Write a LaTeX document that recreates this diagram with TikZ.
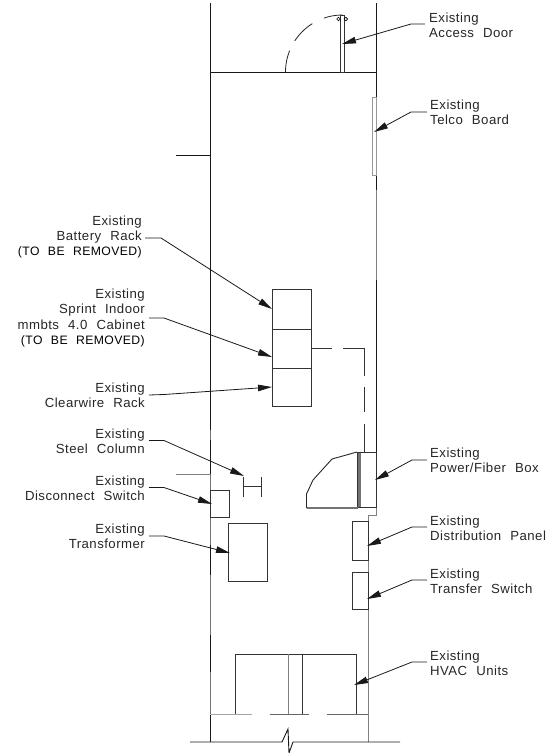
\documentclass[tikz,border=0pt]{standalone}
\usepackage{fontspec}
\usetikzlibrary{arrows.meta}
\setmainfont{Liberation Sans}[LetterSpace=3.5,WordSpace=2.2]
\newcommand{\capsline}[1]{{\fontsize{12.2}{15.2}\selectfont\color{black}#1}}
\tikzset{
  wall/.style={line width=0.9pt,black!90},
  thin gray/.style={line width=0.9pt,black!50},
  part/.style={draw=black!80,line width=0.9pt},
  leader/.style={line width=0.8pt,black!90,-{Stealth[length=14pt,width=6.5pt,inset=0pt]}},
  lblr/.style={anchor=west,inner sep=0pt,align=left,font=\fontsize{13.2}{15.2}\selectfont,text=black!85},
  lbll/.style={anchor=east,inner sep=0pt,align=right,font=\fontsize{13.2}{15.2}\selectfont,text=black!85}
}
\begin{document}
\begin{tikzpicture}[x=1pt,y=-1pt]
\useasboundingbox (0,0) rectangle (556,753);
% walls
\draw[wall] (210,3) -- (210,742);
\draw[wall] (376,3) -- (376,452);
\draw[thin gray] (376,507) -- (376,515) -- (368,515) -- (368,742);
\draw[thin gray] (376,190) -- (376,280);
\foreach \a/\b in {430/440,474/545,575/635,672/714}{\draw[line width=1pt,black!55] (210,\a) -- (210,\b);}
\draw[wall] (210,72) -- (376,72);
\draw[wall] (176,155) -- (210,155);
\draw[thin gray] (176,474) -- (210,474);
% bottom break line
\draw[wall] (190,742) -- (282,742) -- (288,729) -- (289,753) -- (293,742) -- (400,742);
% door
\draw[part] (340,15) rectangle (344,72);
\draw[line width=0.6pt] (338.5,19) circle (1.8);
\draw[line width=0.6pt] (345.8,19) circle (1.8);
\begin{scope}[shift={(342.5,72)},line width=0.8pt,black!85]
\draw plot[domain=180:202,samples=8,smooth] ({57*cos(\x)},{57*sin(\x)});
\draw plot[domain=213:238,samples=8,smooth] ({57*cos(\x)},{57*sin(\x)});
\draw plot[domain=251:270,samples=8,smooth] ({57*cos(\x)},{57*sin(\x)});
\end{scope}
% telco board
\draw[line width=0.9pt,black!40] (372.5,97) rectangle (376,175);
% racks
\draw[part] (272,289.5) rectangle (311,329);
\draw[part] (272,329) rectangle (311,368);
\draw[part] (272,368) rectangle (311,406);
% dashed run
\draw[part] (311,348) -- (332,348);
\draw[part] (343,348) -- (364,348) -- (364,376);
\draw[part] (364,387) -- (364,412);
\draw[part] (364,424) -- (364,452);
% power/fiber box
\fill[black!55] (357,452) rectangle (361,507);
\draw[part] (357,452) rectangle (376,507);
\draw[line width=0.9pt,black!85] (357,452) -- (332,459) -- (313,480) -- (306.5,494) -- (306.5,508);
\draw[line width=1.8pt,black!55] (306.5,508) -- (358,508);
% steel column
\draw[part] (243.5,477) -- (243.5,497);
\draw[part] (243.5,486.5) -- (261.5,486.5);
\draw[part] (261.5,477) -- (261.5,497);
% disconnect, transformer, panels
\draw[part] (210.5,490.5) rectangle (229,517);
\draw[part] (228.7,523) rectangle (267.7,581);
\draw[part] (352,521) rectangle (368,560);
\draw[part] (352,572) rectangle (368,609);
% HVAC
\draw[part] (235,714) -- (235,654) -- (356,654) -- (356,714);
\draw[line width=0.9pt,black!50] (288,654) -- (288,714);
\draw[part] (302,654) -- (302,714);
\draw[line width=0.9pt,black!35] (210,714) -- (252,714);
\draw[line width=0.9pt,black!60] (269.5,714) -- (309,714);
\draw[line width=0.9pt,black!60] (327,714) -- (368,714);
% labels
\node[lblr] (door) at (429,25) {Existing\\Access Door};
\node[lblr] (telco) at (430,112.5) {Existing\\Telco Board};
\node[lblr] (power) at (430,460) {Existing\\Power/Fiber Box};
\node[lblr] (dist) at (430,528.5) {Existing\\Distribution Panel};
\node[lblr] (trans) at (430,581.5) {Existing\\Transfer Switch};
\node[lblr] (hvac) at (430,663) {Existing\\HVAC Units};
\node[lbll] (batt) at (142,237) {Existing\\Battery Rack\\\capsline{(TO BE REMOVED)}};
\node[lbll] (sprint) at (145,318) {Existing\\Sprint Indoor\\mmbts 4.0 Cabinet\\\capsline{(TO BE REMOVED)}};
\node[lbll] (clear) at (145,395.5) {Existing\\Clearwire Rack};
\node[lbll] (steel) at (145,441.5) {Existing\\Steel Column};
\node[lbll] (disc) at (145,488.5) {Existing\\Disconnect Switch};
\node[lbll] (xfmr) at (145,536.5) {Existing\\Transformer};
% leader anchors
\coordinate (doorS) at (425,24);   \coordinate (doorT) at (342,44);
\coordinate (telcoS) at (427,112); \coordinate (telcoT) at (374,132);
\coordinate (powerS) at (427,460); \coordinate (powerT) at (375,480);
\coordinate (distS) at (427,527);  \coordinate (distT) at (367,546);
\coordinate (transS) at (427,580); \coordinate (transT) at (367,599);
\coordinate (hvacS) at (427,662);  \coordinate (hvacT) at (354,685);
\coordinate (battS) at (145,238);  \coordinate (battT) at (272,309);
\coordinate (sprintS) at (149,318);\coordinate (sprintT) at (272,357);
\coordinate (clearS) at (149,395); \coordinate (clearT) at (272,387);
\coordinate (steelS) at (149,440.5);\coordinate (steelT) at (244,476);
\coordinate (discS) at (149,487.5);\coordinate (discT) at (212,504);
\coordinate (xfmrS) at (149,536);  \coordinate (xfmrT) at (230,553);
% leaders
\draw[leader] (doorS) -- (411,24) -- (doorT);
\draw[leader] (telcoS) -- (411,112) -- (telcoT);
\draw[leader] (powerS) -- (412,460) -- (powerT);
\draw[leader] (distS) -- (412,527) -- (distT);
\draw[leader] (transS) -- (412,580) -- (transT);
\draw[leader] (hvacS) -- (412,662) -- (hvacT);
\draw[leader] (battS) -- (161,238) -- (battT);
\draw[leader] (sprintS) -- (164,318) -- (sprintT);
\draw[leader] (clearS) -- (164,394.5) -- (clearT);
\draw[leader] (steelS) -- (164,440.5) -- (steelT);
\draw[leader] (discS) -- (164,487.5) -- (discT);
\draw[leader] (xfmrS) -- (164,536) -- (xfmrT);
\end{tikzpicture}
\end{document}
